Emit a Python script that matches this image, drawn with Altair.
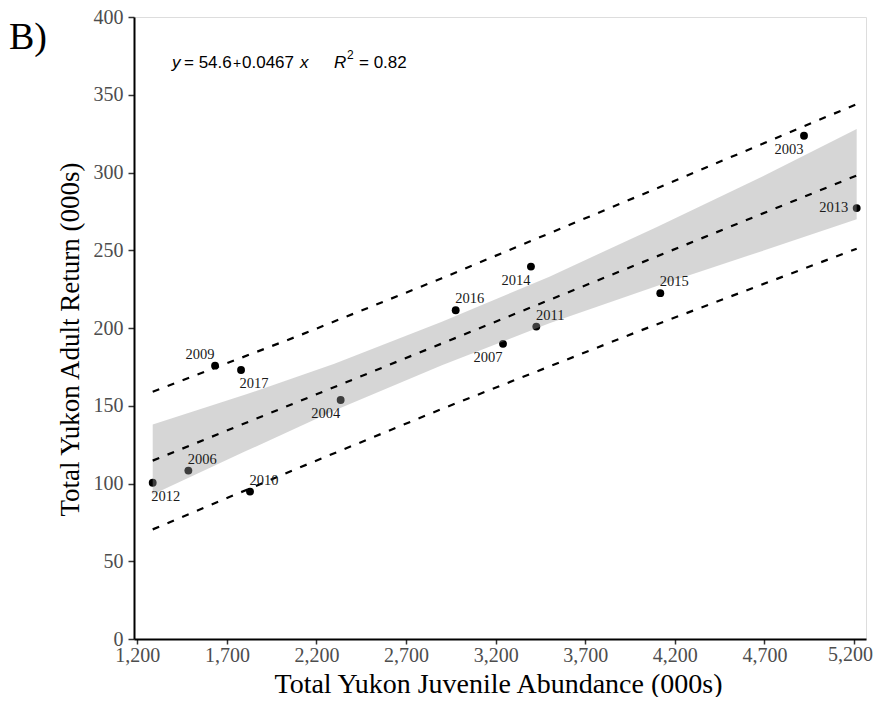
import altair as alt
import pandas as pd

# ---- data ----
years = [2003, 2004, 2006, 2007, 2009, 2010, 2011, 2012, 2013, 2014, 2015, 2016, 2017]
juvenile = [4921, 2335, 1485, 3241, 1634, 1829, 3427, 1286, 5215, 3397, 4119, 2977, 1779]
adult = [323.6, 153.7, 108.3, 189.8, 175.8, 94.8, 200.9, 100.5, 277.1, 239.5, 222.4, 211.4, 173.0]
label_side = ["ll", "ll", "ur", "ll", "ul", "ur", "ur", "lr", "l", "ll", "ur", "ur", "lr"]

fit_x = [1286, 5215]
fit_y = [114.7, 298.1]

band_x = [1286, 1800, 2300, 2900, 3500, 4100, 4700, 5215]
band_lo = [93.0, 120.5, 147.0, 176.0, 203.0, 227.0, 250.0, 270.0]
band_hi = [138.0, 157.0, 177.0, 204.0, 233.0, 265.0, 298.0, 328.0]

pi_x = [1286, 2100, 2900, 4000, 5215]
pi_lo = [70.5, 110.0, 148.0, 198.0, 251.0]
pi_hi = [159.0, 195.0, 232.0, 285.0, 344.0]

x_ticks = [1200, 1700, 2200, 2700, 3200, 3700, 4200, 4700, 5200]
y_ticks = [0, 50, 100, 150, 200, 250, 300, 350, 400]

pts = pd.DataFrame({"x": juvenile, "y": adult, "year": [str(v) for v in years], "side": label_side})
fit = pd.DataFrame({"x": fit_x, "y": fit_y})
band = pd.DataFrame({"x": band_x, "y": band_lo, "y2": band_hi})
pil = pd.DataFrame({"x": pi_x, "y": pi_lo})
piu = pd.DataFrame({"x": pi_x, "y": pi_hi})

SERIF = "Liberation Serif"
SANS = "Liberation Sans"
LAST_X = x_ticks[-1]

# the last tick label is drawn as its own text, pulled in so the page edge does not cut it
x_axis = alt.Axis(values=x_ticks, labelExpr=f"datum.value == {LAST_X} ? '' : format(datum.value, ',d')",
                  title="Total Yukon Juvenile Abundance (000s)",
                  grid=False, domainColor="black", domainWidth=2, tickColor="#333333",
                  tickWidth=1.5, tickSize=5, labelFont=SERIF, labelFontSize=20,
                  labelColor="#4d4d4d", labelPadding=1, labelFlush=False, labelOverlap=False,
                  titleFont=SERIF, titleFontSize=28, titleFontWeight="normal", titleColor="black",
                  titleX=364, titleY=53, titleBaseline="alphabetic", titleAlign="center")
y_axis = alt.Axis(values=y_ticks, format="d", title="Total Yukon Adult Return (000s)",
                  grid=False, domainColor="black", domainWidth=2, tickColor="#333333",
                  tickWidth=1.5, tickSize=6, labelFont=SERIF, labelFontSize=20,
                  labelColor="#4d4d4d", labelPadding=5, labelFlush=False, labelOverlap=False,
                  titleFont=SERIF, titleFontSize=27, titleFontWeight="normal", titleColor="black",
                  titleAngle=270, titleX=-56, titleY=322, titleBaseline="alphabetic",
                  titleAlign="center")

X = alt.X("x:Q", scale=alt.Scale(domain=[1181.6, 5267], nice=False, zero=False), axis=x_axis)
Y = alt.Y("y:Q", scale=alt.Scale(domain=[0, 400], nice=False), axis=y_axis)

points = alt.Chart(pts).mark_circle(size=62, color="black", opacity=1).encode(x=X, y=Y)

ribbon = alt.Chart(band).mark_area(color="#999999", opacity=0.4).encode(
    x=X, y=Y, y2=alt.Y2("y2:Q"))

dash = dict(color="black", strokeWidth=2.2, strokeDash=[7, 9])
fit_line = alt.Chart(fit).mark_line(**dash).encode(x=X, y=Y)
lo_line = alt.Chart(pil).mark_line(**dash).encode(x=X, y=Y)
hi_line = alt.Chart(piu).mark_line(**dash).encode(x=X, y=Y)

offsets = {"ur": (14, -11), "lr": (13, 14), "ul": (-15, -11), "ll": (-15, 14), "l": (-23, 0)}
label_layers = []
for side, (dx, dy) in offsets.items():
    label_layers.append(
        alt.Chart(pts).transform_filter(alt.datum.side == side)
        .mark_text(font=SERIF, fontSize=14.5, color="#1a1a1a", dx=dx, dy=dy,
                   align="center", baseline="middle")
        .encode(x=X, y=Y, text="year:N"))

def free_text(txt, px, py, font=SANS, size=17, italic=False, baseline="alphabetic",
              color="black", align="left"):
    kw = dict(font=font, fontSize=size, color=color, align=align, baseline=baseline)
    if italic:
        kw["fontStyle"] = "italic"
    return alt.Chart(pd.DataFrame({"t": [txt]})).mark_text(**kw).encode(
        x=alt.value(px), y=alt.value(py), text="t:N")

eq = [
    free_text("y", 38, 51, italic=True),
    free_text("= 54.6", 50, 51),
    free_text("+", 99, 51, size=14),
    free_text("0.0467", 108, 51),
    free_text("x", 166, 51, italic=True),
    free_text("R", 200, 51, italic=True),
    free_text("2", 213, 42, size=12),
    free_text("= 0.82", 225, 51),
    free_text("B)", -125, 32, font=SERIF, size=38),
    free_text(f"{LAST_X:,}", 739, 628, font=SERIF, size=20, baseline="top",
              color="#4d4d4d", align="right"),
]

chart = alt.layer(points, ribbon, fit_line, lo_line, hi_line, *label_layers, *eq).properties(
    width=732, height=622,
    autosize=alt.AutoSizeParams(type="none"),
    padding={"left": 126, "top": 9, "right": 7, "bottom": 58},
).configure_view(stroke=None).configure(background="white")

chart.save("out.html", embed_options={"renderer": "svg", "actions": False})
